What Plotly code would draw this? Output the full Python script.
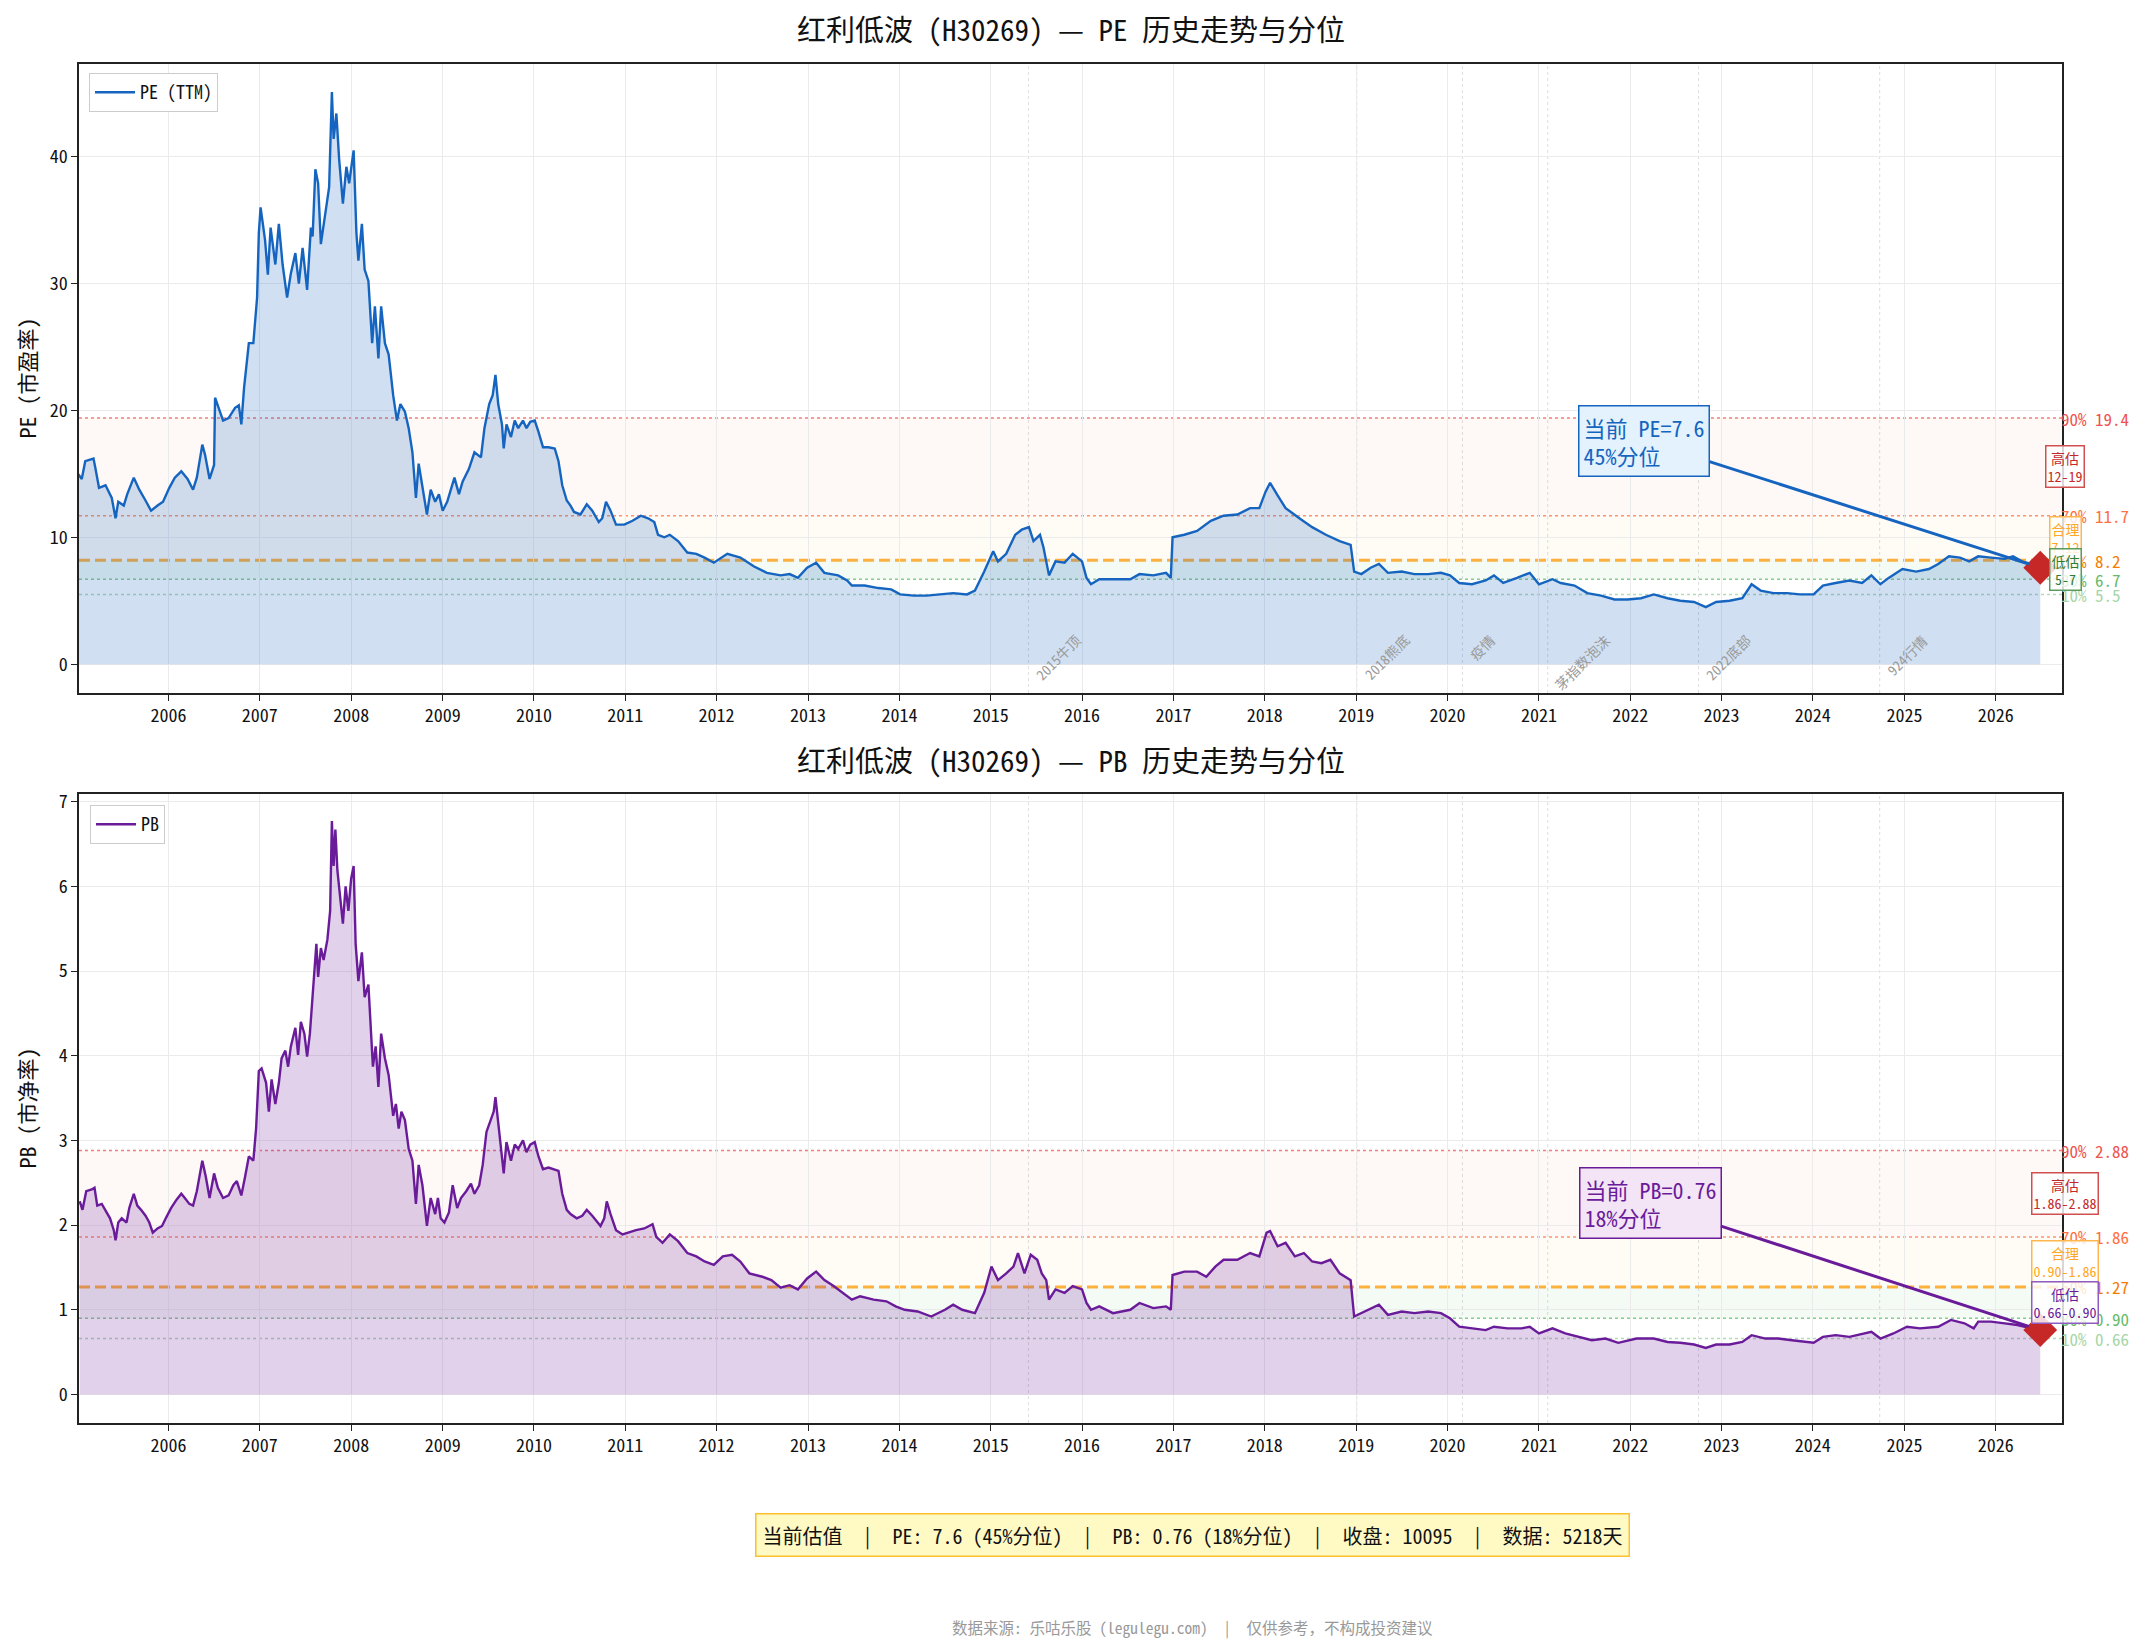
import pandas as pd
import plotly.graph_objects as go

# ---------------- data ----------------
PE_YEARS = [2005.01, 2005.05, 2005.09, 2005.18, 2005.20, 2005.24, 2005.31, 2005.38, 2005.42, 2005.45,
            2005.51, 2005.55, 2005.62, 2005.68, 2005.75, 2005.81, 2005.88, 2005.94, 2006.01, 2006.07,
            2006.14, 2006.21, 2006.27, 2006.31, 2006.37, 2006.40, 2006.45, 2006.50, 2006.51, 2006.56,
            2006.60, 2006.66, 2006.73, 2006.77, 2006.80, 2006.83, 2006.88, 2006.93, 2006.97, 2006.99,
            2007.01, 2007.06, 2007.09, 2007.12, 2007.17, 2007.21, 2007.25, 2007.30, 2007.34, 2007.39,
            2007.43, 2007.47, 2007.52, 2007.56, 2007.58, 2007.61, 2007.64, 2007.67, 2007.71, 2007.76,
            2007.79, 2007.81, 2007.84, 2007.87, 2007.91, 2007.95, 2007.98, 2008.01, 2008.03, 2008.06,
            2008.08, 2008.12, 2008.15, 2008.19, 2008.23, 2008.26, 2008.30, 2008.33, 2008.37, 2008.41,
            2008.46, 2008.50, 2008.54, 2008.59, 2008.63, 2008.67, 2008.71, 2008.74, 2008.78, 2008.83,
            2008.87, 2008.92, 2008.96, 2009.00, 2009.05, 2009.09, 2009.13, 2009.18, 2009.22, 2009.29,
            2009.35, 2009.42, 2009.46, 2009.51, 2009.55, 2009.58, 2009.61, 2009.65, 2009.67, 2009.70,
            2009.75, 2009.79, 2009.83, 2009.88, 2009.92, 2009.96, 2010.01, 2010.05, 2010.10, 2010.16,
            2010.23, 2010.27, 2010.31, 2010.36, 2010.40, 2010.44, 2010.51, 2010.58, 2010.64, 2010.71,
            2010.75, 2010.79, 2010.84, 2010.90, 2010.99, 2011.08, 2011.17, 2011.25, 2011.32, 2011.36,
            2011.43, 2011.49,
            2011.58, 2011.68, 2011.78, 2011.87, 2011.97, 2012.12, 2012.26, 2012.41, 2012.55, 2012.70,
            2012.80, 2012.89, 2012.99, 2013.09, 2013.18, 2013.33, 2013.43, 2013.48, 2013.62, 2013.77,
            2013.91, 2014.01, 2014.16, 2014.30, 2014.45, 2014.59, 2014.74, 2014.83, 2014.93, 2015.03,
            2015.08, 2015.17, 2015.27, 2015.34, 2015.42, 2015.47, 2015.54, 2015.58, 2015.64, 2015.71,
            2015.81, 2015.90, 2016.00, 2016.05, 2016.10, 2016.19, 2016.34, 2016.53, 2016.63, 2016.78,
            2016.92, 2016.97, 2016.99, 2017.12, 2017.26, 2017.41, 2017.55, 2017.70, 2017.84, 2017.94,
            2018.01, 2018.06, 2018.14, 2018.23, 2018.38, 2018.52, 2018.67, 2018.82, 2018.94, 2018.98,
            2019.06, 2019.16, 2019.25, 2019.35, 2019.50, 2019.64, 2019.79, 2019.93, 2020.03, 2020.13,
            2020.27, 2020.42, 2020.51, 2020.61, 2020.76, 2020.90, 2021.00, 2021.15, 2021.24, 2021.39,
            2021.53, 2021.68, 2021.83, 2021.97, 2022.12, 2022.26, 2022.41, 2022.55, 2022.70, 2022.83,
            2022.94, 2023.09, 2023.23, 2023.33, 2023.43, 2023.57, 2023.72, 2023.86, 2024.01, 2024.11,
            2024.25, 2024.40, 2024.54, 2024.64, 2024.74, 2024.83, 2024.98, 2025.13, 2025.27, 2025.37,
            2025.49, 2025.61, 2025.71, 2025.81, 2025.95, 2026.10, 2026.19, 2026.29, 2026.44, 2026.49]
PE_VALUES = [15.0, 14.6, 16.0, 16.2, 15.4, 13.9, 14.1, 13.1, 11.5, 12.8,
             12.5, 13.4, 14.7, 13.75, 12.9, 12.1, 12.5, 12.8, 13.9, 14.7,
             15.2, 14.6, 13.75, 14.7, 17.3, 16.5, 14.6, 15.7, 21.0, 19.9,
             19.2, 19.4, 20.2, 20.4, 18.9, 21.8, 25.3, 25.3, 28.9, 34.0,
             36.0, 33.4, 30.7, 34.4, 31.5, 34.7, 31.5, 28.9, 30.8, 32.4,
             30.0, 32.8, 29.5, 34.4, 33.7, 39.0, 37.9, 33.1, 35.0, 37.6,
             45.1, 41.4, 43.4, 39.8, 36.3, 39.2, 37.9, 39.5, 40.5, 34.0,
             31.8, 34.7, 31.1, 30.2, 25.3, 28.2, 24.1, 28.2, 25.3, 24.4,
             21.2, 19.2, 20.5, 19.9, 18.6, 16.7, 13.1, 15.8, 14.1, 11.8,
             13.75, 12.8, 13.4, 12.1, 12.8, 13.75, 14.7, 13.4, 14.4, 15.4,
             16.7, 16.3, 18.6, 20.5, 21.2, 22.8, 20.5, 18.9, 17.0, 18.9,
             17.9, 19.2, 18.6, 19.2, 18.6, 19.1, 19.2, 18.3, 17.1, 17.1,
             17.0, 16.0, 14.1, 12.9, 12.5, 12.0, 11.8, 12.6, 12.1, 11.2,
             11.5, 12.8, 12.1, 11.0, 11.0, 11.3, 11.7, 11.5, 11.2, 10.2,
             10.0, 10.2,
             9.7, 8.8, 8.7, 8.4, 8.0, 8.7, 8.4, 7.7, 7.2, 7.0,
             7.1, 6.8, 7.6, 8.0, 7.2, 7.0, 6.6, 6.2, 6.2, 6.0,
             5.9, 5.5, 5.4, 5.4, 5.5, 5.6, 5.5, 5.8, 7.3, 8.9,
             8.1, 8.7, 10.2, 10.6, 10.8, 9.7, 10.2, 9.2, 7.0, 8.1,
             8.0, 8.7, 8.1, 6.8, 6.3, 6.7, 6.7, 6.7, 7.1, 7.0,
             7.2, 6.8, 10.0, 10.2, 10.5, 11.3, 11.7, 11.8, 12.3, 12.3,
             13.6, 14.3, 13.3, 12.3, 11.5, 10.8, 10.2, 9.7, 9.4, 7.3,
             7.1, 7.6, 7.9, 7.2, 7.3, 7.1, 7.1, 7.2, 7.0, 6.4,
             6.3, 6.6, 7.0, 6.4, 6.8, 7.2, 6.3, 6.7, 6.4, 6.2,
             5.6, 5.4, 5.1, 5.1, 5.2, 5.5, 5.2, 5.0, 4.9, 4.5,
             4.9, 5.0, 5.2, 6.3, 5.8, 5.6, 5.6, 5.5, 5.5, 6.2,
             6.4, 6.6, 6.4, 7.0, 6.3, 6.8, 7.5, 7.3, 7.5, 7.9,
             8.5, 8.4, 8.1, 8.5, 8.4, 8.3, 8.5, 8.1, 7.8, 7.6]

PB_YEARS = [2005.03, 2005.06, 2005.10, 2005.16, 2005.19, 2005.22, 2005.27, 2005.31, 2005.36, 2005.40,
            2005.42, 2005.45, 2005.49, 2005.54, 2005.57, 2005.62, 2005.66, 2005.70, 2005.75, 2005.79,
            2005.83, 2005.88, 2005.93, 2005.97, 2006.03, 2006.09, 2006.14, 2006.18, 2006.23, 2006.27,
            2006.31, 2006.37, 2006.41, 2006.45, 2006.50, 2006.54, 2006.60, 2006.66, 2006.71, 2006.75,
            2006.80, 2006.84, 2006.88, 2006.93, 2006.96, 2006.99, 2007.02, 2007.07, 2007.10, 2007.13,
            2007.17, 2007.21, 2007.24, 2007.28, 2007.31, 2007.34, 2007.39, 2007.42, 2007.45, 2007.49,
            2007.52, 2007.55, 2007.58, 2007.62, 2007.64, 2007.67, 2007.70, 2007.74, 2007.77, 2007.79,
            2007.81, 2007.83, 2007.85, 2007.88, 2007.91, 2007.94, 2007.97, 2008.00, 2008.03, 2008.05,
            2008.08, 2008.12, 2008.15, 2008.19, 2008.22, 2008.24, 2008.27, 2008.30, 2008.33, 2008.37,
            2008.41, 2008.46, 2008.49, 2008.52, 2008.55, 2008.59, 2008.63, 2008.67, 2008.71, 2008.74,
            2008.78, 2008.83, 2008.87, 2008.92, 2008.95, 2008.98, 2009.02, 2009.07, 2009.11, 2009.16,
            2009.20, 2009.26, 2009.31, 2009.35, 2009.40, 2009.44, 2009.48, 2009.53, 2009.56, 2009.58,
            2009.61, 2009.64, 2009.67, 2009.70, 2009.75, 2009.79, 2009.83, 2009.88, 2009.92, 2009.96,
            2010.01, 2010.05, 2010.10, 2010.16, 2010.23, 2010.27, 2010.31, 2010.36, 2010.40, 2010.47,
            2010.53, 2010.58, 2010.64, 2010.73, 2010.77, 2010.80, 2010.84, 2010.90, 2010.97, 2011.03,
            2011.12, 2011.21, 2011.30, 2011.34, 2011.41, 2011.49,
            2011.58, 2011.68, 2011.78, 2011.87, 2011.97, 2012.07, 2012.17, 2012.26, 2012.36, 2012.50,
            2012.60, 2012.70, 2012.80, 2012.89, 2012.99, 2013.09, 2013.18, 2013.28, 2013.38, 2013.48,
            2013.57, 2013.72, 2013.86, 2013.96, 2014.06, 2014.20, 2014.35, 2014.50, 2014.59, 2014.69,
            2014.83, 2014.93, 2015.01, 2015.08, 2015.17, 2015.25, 2015.30, 2015.37, 2015.44, 2015.51,
            2015.56, 2015.61, 2015.64, 2015.71, 2015.81, 2015.90, 2016.00, 2016.05, 2016.10, 2016.19,
            2016.34, 2016.53, 2016.63, 2016.78, 2016.92, 2016.97, 2016.99, 2017.12, 2017.26, 2017.36,
            2017.46, 2017.55, 2017.70, 2017.84, 2017.94, 2018.02, 2018.06, 2018.14, 2018.23, 2018.33,
            2018.43, 2018.52, 2018.62, 2018.72, 2018.82, 2018.94, 2018.98, 2019.06, 2019.16, 2019.25,
            2019.35, 2019.50, 2019.64, 2019.79, 2019.93, 2020.03, 2020.13, 2020.27, 2020.42, 2020.51,
            2020.66, 2020.81, 2020.90, 2021.00, 2021.15, 2021.29, 2021.44, 2021.58, 2021.73, 2021.87,
            2022.07, 2022.26, 2022.41, 2022.55, 2022.70, 2022.83, 2022.94, 2023.09, 2023.23, 2023.33,
            2023.48, 2023.62, 2023.77, 2023.91, 2024.01, 2024.11, 2024.25, 2024.40, 2024.54, 2024.64,
            2024.74, 2024.88, 2025.03, 2025.17, 2025.37, 2025.51, 2025.66, 2025.76, 2025.81, 2025.95,
            2026.10, 2026.24, 2026.39, 2026.49]
PB_VALUES = [2.28, 2.18, 2.40, 2.42, 2.44, 2.23, 2.25, 2.18, 2.08, 1.94,
             1.82, 2.03, 2.08, 2.03, 2.20, 2.37, 2.23, 2.18, 2.11, 2.03,
             1.91, 1.96, 1.99, 2.08, 2.20, 2.30, 2.37, 2.32, 2.25, 2.23,
             2.40, 2.76, 2.57, 2.32, 2.61, 2.44, 2.32, 2.35, 2.47, 2.52,
             2.35, 2.57, 2.81, 2.76, 3.14, 3.82, 3.85, 3.68, 3.34, 3.72,
             3.43, 3.68, 3.97, 4.06, 3.87, 4.11, 4.33, 4.01, 4.40, 4.26,
             3.99, 4.26, 4.69, 5.32, 4.93, 5.27, 5.13, 5.37, 5.71, 6.77,
             6.24, 6.67, 6.19, 5.90, 5.56, 6.00, 5.71, 6.09, 6.24, 5.32,
             4.88, 5.22, 4.69, 4.84, 4.16, 3.87, 4.11, 3.63, 4.26, 3.97,
             3.77, 3.29, 3.43, 3.14, 3.34, 3.24, 2.90, 2.76, 2.25, 2.71,
             2.47, 1.99, 2.32, 2.13, 2.32, 2.08, 2.03, 2.15, 2.47, 2.20,
             2.32, 2.40, 2.49, 2.37, 2.47, 2.71, 3.10, 3.24, 3.34, 3.51,
             3.19, 2.95, 2.61, 2.98, 2.76, 2.95, 2.90, 3.00, 2.86, 2.95,
             2.98, 2.81, 2.66, 2.68, 2.66, 2.64, 2.37, 2.18, 2.13, 2.08,
             2.11, 2.18, 2.11, 1.99, 2.08, 2.28, 2.13, 1.94, 1.89, 1.91,
             1.94, 1.96, 2.01, 1.86, 1.79, 1.89,
             1.81, 1.67, 1.63, 1.57, 1.53, 1.63, 1.65, 1.57, 1.43, 1.39,
             1.35, 1.26, 1.29, 1.24, 1.37, 1.45, 1.35, 1.28, 1.20, 1.12,
             1.16, 1.12, 1.10, 1.04, 1.00, 0.98, 0.92, 1.00, 1.06, 1.00,
             0.96, 1.20, 1.51, 1.35, 1.43, 1.51, 1.67, 1.43, 1.65, 1.59,
             1.43, 1.35, 1.12, 1.24, 1.20, 1.28, 1.24, 1.08, 1.00, 1.04,
             0.96, 1.00, 1.08, 1.02, 1.04, 1.00, 1.41, 1.45, 1.45, 1.39,
             1.51, 1.59, 1.59, 1.67, 1.63, 1.91, 1.93, 1.75, 1.79, 1.63,
             1.67, 1.57, 1.55, 1.59, 1.43, 1.35, 0.92, 0.96, 1.02, 1.06,
             0.94, 0.98, 0.96, 0.98, 0.96, 0.90, 0.80, 0.78, 0.76, 0.80,
             0.78, 0.78, 0.80, 0.72, 0.78, 0.72, 0.68, 0.64, 0.66, 0.61,
             0.66, 0.66, 0.62, 0.61, 0.59, 0.55, 0.59, 0.59, 0.62, 0.70,
             0.66, 0.66, 0.64, 0.62, 0.61, 0.68, 0.70, 0.68, 0.72, 0.74,
             0.66, 0.72, 0.80, 0.78, 0.80, 0.88, 0.84, 0.78, 0.86, 0.86,
             0.84, 0.82, 0.78, 0.76]

PCT_NAMES = ["90%", "70%", "50%", "30%", "10%"]
PE_PCT_VALUES = [19.4, 11.7, 8.2, 6.7, 5.5]
PB_PCT_VALUES = [2.88, 1.86, 1.27, 0.90, 0.66]
PE_PCT_TEXT = ["19.4", "11.7", "8.2", "6.7", "5.5"]
PB_PCT_TEXT = ["2.88", "1.86", "1.27", "0.90", "0.66"]

ZONE_NAMES = ["高估", "合理", "低估"]
PE_ZONE_TEXT = ["12-19", "7-12", "5-7"]
PB_ZONE_TEXT = ["1.86-2.88", "0.90-1.86", "0.66-0.90"]

EVENT_DATES = ["2015-06-01", "2019-01-04", "2020-03-01", "2021-02-05", "2022-10-01", "2024-09-24"]
EVENT_LABELS = ["2015牛顶", "2018熊底", "疫情", "茅指数泡沫", "2022底部", "924行情"]

CURRENT_PE, PE_PCTL = 7.6, 45
CURRENT_PB, PB_PCTL = 0.76, 18
CLOSE_PRICE, DATA_DAYS = 10095, 5218
X_START, X_END = 2005.02, 2026.727

# ---------------- helpers ----------------
def to_date(y):
    yr = int(y)
    a = pd.Timestamp(yr, 1, 1)
    b = pd.Timestamp(yr + 1, 1, 1)
    return (a + (b - a) * (y - yr)).strftime("%Y-%m-%d")

W, H = 2144, 1651
PL, PR = 79, 2062
FONT = "Noto Sans Mono CJK SC, Noto Sans CJK SC, sans-serif"

pe_dates = [to_date(v) for v in PE_YEARS]
pb_dates = [to_date(v) for v in PB_YEARS]

fig = go.Figure()

panels = [
    dict(xa="x", ya="y", xname="xaxis", yname="yaxis", top=64, bot=693,
         dates=pe_dates, vals=PE_VALUES, color="#1565c0", fill="rgba(21,101,192,0.20)",
         name="PE (TTM)", legend="legend", pct=PE_PCT_VALUES, pcttext=PE_PCT_TEXT,
         zones=PE_ZONE_TEXT, yrange=[-2.27, 47.3], ytick=10, cur=CURRENT_PE, pctl=PE_PCTL,
         title="红利低波 (H30269) — PE 历史走势与分位", title_y=28, ylabel="PE (市盈率)",
         curtext=f"当前 PE={CURRENT_PE}<br>{PE_PCTL}%分位", boxbg="#e3f2fd", ax=-396, ay=-127,
         low_border="#5b9b5e", low_text="#2e7d32", events=True),
    dict(xa="x2", ya="y2", xname="xaxis2", yname="yaxis2", top=794, bot=1423,
         dates=pb_dates, vals=PB_VALUES, color="#6a1b9a", fill="rgba(106,27,154,0.20)",
         name="PB", legend="legend2", pct=PB_PCT_VALUES, pcttext=PB_PCT_TEXT,
         zones=PB_ZONE_TEXT, yrange=[-0.337, 7.09], ytick=1, cur=CURRENT_PB, pctl=PB_PCTL,
         title="红利低波 (H30269) — PB 历史走势与分位", title_y=759, ylabel="PB (市净率)",
         curtext=f"当前 PB={CURRENT_PB}<br>{PB_PCTL}%分位", boxbg="#f3e5f5", ax=-390, ay=-127,
         low_border="#8e5cc2", low_text="#6a1b9a", events=False),
]

line_styles = [
    dict(color="rgba(239,83,80,0.75)", width=1.5, dash="dot"),
    dict(color="rgba(255,112,67,0.75)", width=1.5, dash="dot"),
    dict(color="rgba(255,152,0,0.75)", width=3, dash="11px,5px"),
    dict(color="rgba(102,187,106,0.75)", width=1.5, dash="dot"),
    dict(color="rgba(165,214,167,0.85)", width=1.5, dash="dot"),
]
label_colors = ["#ef5350", "#ff7043", "#f57c00", "#66bb6a", "#a5d6a7"]
band_colors = ["rgba(239,83,80,0.045)", "rgba(255,183,77,0.06)", "rgba(102,187,106,0.07)"]

annotations = []
shapes = []

for p in panels:
    xa, ya = p["xa"], p["ya"]
    fig.add_trace(go.Scatter(x=p["dates"], y=p["vals"], mode="lines", fill="tozeroy",
                             fillcolor=p["fill"], line=dict(width=0, color=p["fill"]),
                             showlegend=False, hoverinfo="skip", xaxis=xa, yaxis=ya))
    fig.add_trace(go.Scatter(x=p["dates"], y=p["vals"], mode="lines", name=p["name"],
                             line=dict(color=p["color"], width=2.4), legend=p["legend"],
                             xaxis=xa, yaxis=ya))
    fig.add_trace(go.Scatter(x=[p["dates"][-1]], y=[p["vals"][-1]], mode="markers",
                             marker=dict(symbol="diamond", size=26, color="#c62828",
                                         line=dict(width=0)),
                             showlegend=False, hoverinfo="skip", xaxis=xa, yaxis=ya))

    pct = p["pct"]
    x0 = to_date(X_START)
    x1 = to_date(X_END)
    for i in range(3):
        shapes.append(dict(type="rect", xref=xa, x0=x0, x1=x1, yref=ya,
                           y0=pct[i + 1], y1=pct[i], fillcolor=band_colors[i],
                           line=dict(width=0), layer="below"))
    for i, v in enumerate(pct):
        shapes.append(dict(type="line", xref=xa, x0=x0, x1=x1, yref=ya,
                           y0=v, y1=v, line=line_styles[i], layer="below"))
        annotations.append(dict(xref="paper", x=2059 / W, xanchor="left", yref=ya, y=v,
                                yanchor="middle", text=f"{PCT_NAMES[i]} {p['pcttext'][i]}",
                                showarrow=False, font=dict(size=17, color=label_colors[i], family=FONT)))
    y_lo, y_hi = p["yrange"]
    for d in EVENT_DATES:
        shapes.append(dict(type="line", xref=xa, x0=d, x1=d, yref=ya, y0=y_lo, y1=y_hi,
                           line=dict(color="rgba(160,160,160,0.35)", width=1, dash="3px,3px"),
                           layer="below"))
    if p["events"]:
        for d, lab in zip(EVENT_DATES, EVENT_LABELS):
            annotations.append(dict(xref=xa, x=d, yref=ya, y=2.9, xanchor="left", yanchor="top",
                                    text=lab, textangle=-45, showarrow=False,
                                    font=dict(size=14, color="#9a9a9a", family=FONT)))
    zone_styles = [("#d05050", "#c62828"), ("#ffb74d", "#ffa726"), (p["low_border"], p["low_text"])]
    for i in range(3):
        mid = (pct[i] + pct[i + 1]) / 2
        annotations.append(dict(xref="paper", x=2065 / W, xanchor="center", yref=ya, y=mid,
                                yanchor="middle",
                                text=f"{ZONE_NAMES[i]}<br>{p['zones'][i]}",
                                showarrow=False, bgcolor="rgba(255,255,255,0.82)",
                                bordercolor=zone_styles[i][0], borderwidth=1.5, borderpad=1,
                                font=dict(size=14, color=zone_styles[i][1], family=FONT)))
    annotations.append(dict(xref=xa, yref=ya, x=p["dates"][-1], y=p["cur"], text=p["curtext"],
                            align="left", showarrow=True, arrowhead=0, arrowwidth=3,
                            arrowcolor=p["color"], ax=p["ax"], ay=p["ay"], standoff=12,
                            bgcolor=p["boxbg"], bordercolor=p["color"], borderwidth=1.5,
                            borderpad=4, font=dict(size=22, color=p["color"], family=FONT)))
    annotations.append(dict(xref="paper", yref="paper", x=(PL + PR) / 2 / W, y=1 - p["title_y"] / H,
                            xanchor="center", yanchor="middle", text=p["title"], showarrow=False,
                            font=dict(size=29, color="#111", family=FONT)))
    annotations.append(dict(xref="paper", yref="paper", x=25 / W, y=1 - (p["top"] + p["bot"]) / 2 / H,
                            xanchor="center", yanchor="middle", text=p["ylabel"], textangle=-90,
                            showarrow=False, font=dict(size=22, color="#111", family=FONT)))

annotations.append(dict(xref="paper", yref="paper", x=1192 / W, y=1 - 1535 / H,
                        xanchor="center", yanchor="middle", showarrow=False,
                        text=(f"当前估值  |  PE: {CURRENT_PE} ({PE_PCTL}%分位)  |  "
                              f"PB: {CURRENT_PB} ({PB_PCTL}%分位)  |  收盘: {CLOSE_PRICE}  |  "
                              f"数据: {DATA_DAYS}天"),
                        bgcolor="#fff9c4", bordercolor="#fbc02d", borderwidth=1.5, borderpad=6,
                        font=dict(size=20, color="#111", family=FONT)))
annotations.append(dict(xref="paper", yref="paper", x=1192 / W, y=1 - 1627 / H,
                        xanchor="center", yanchor="middle", showarrow=False,
                        text="数据来源: 乐咕乐股 (legulegu.com)  |  仅供参考，不构成投资建议",
                        font=dict(size=15.5, color="#999999", family=FONT)))

axis_common = dict(showline=True, linecolor="#222", linewidth=1.5, mirror=True, ticks="outside",
                   ticklen=6, tickwidth=1.2, tickcolor="#222", showgrid=True, gridcolor="#ebebeb",
                   gridwidth=1, zeroline=False, automargin=False,
                   tickfont=dict(size=18, color="#111", family=FONT))
xr = [to_date(X_START), to_date(X_END)]

layout = dict(
    width=W, height=H, margin=dict(l=0, r=0, t=0, b=0, pad=0, autoexpand=False),
    paper_bgcolor="white", plot_bgcolor="white",
    font=dict(family=FONT, color="#111"),
    showlegend=True, hovermode=False,
    shapes=shapes, annotations=annotations,
    legend=dict(x=89 / W, y=1 - 73 / H, xanchor="left", yanchor="top", bgcolor="white",
                bordercolor="#cccccc", borderwidth=1, itemwidth=40,
                font=dict(size=18, family=FONT)),
    legend2=dict(x=90 / W, y=1 - 805 / H, xanchor="left", yanchor="top", bgcolor="white",
                 bordercolor="#cccccc", borderwidth=1, itemwidth=40,
                 font=dict(size=18, family=FONT)),
)
for p in panels:
    layout[p["xname"]] = dict(axis_common, type="date", range=xr, tick0="2006-01-01", dtick="M12",
                              tickformat="%Y", domain=[PL / W, PR / W], anchor=p["ya"])
    layout[p["yname"]] = dict(axis_common, range=p["yrange"], dtick=p["ytick"], tick0=0,
                              domain=[1 - p["bot"] / H, 1 - p["top"] / H], anchor=p["xa"])
fig.update_layout(**layout)

fig.write_html("out.html")
